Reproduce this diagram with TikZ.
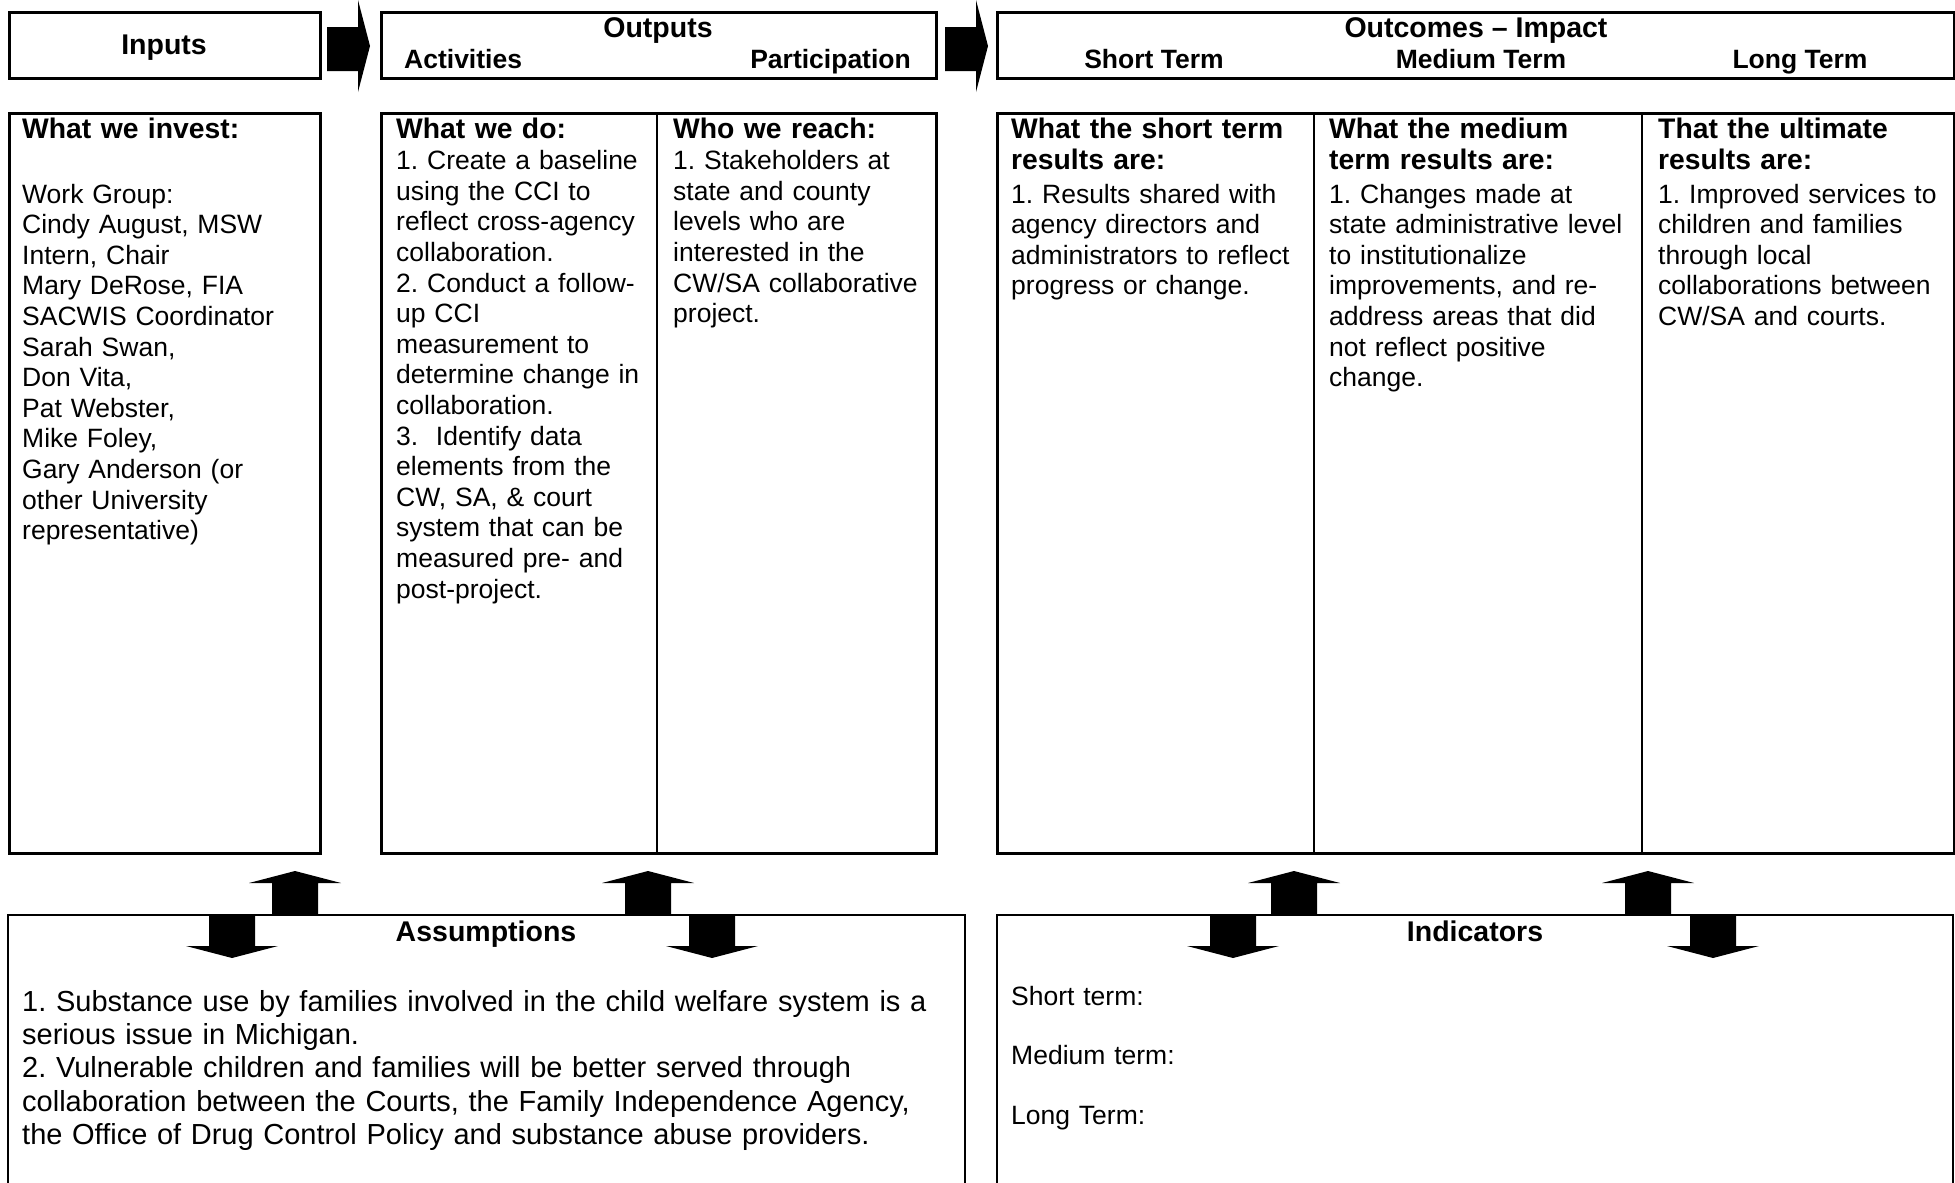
\documentclass[tikz,border=0pt]{standalone}
\usepackage{fontspec}
\setmainfont{Liberation Sans}
\frenchspacing
\begin{document}
\begin{tikzpicture}[x=1pt,y=-1pt,
  frame/.style={draw, line width=2.6pt, inner sep=0pt, anchor=north west},
  rule/.style={line width=2.6pt},
  blockarrow/.style={fill=black},
  hdtitle/.style={inner sep=0pt, font=\fontsize{28.5}{31}\selectfont\bfseries},
  hdsub/.style={inner sep=0pt, font=\fontsize{26.5}{30.6}\selectfont\bfseries},
  colhead/.style={inner sep=0pt, anchor=base west, text width=330pt, align=left, font=\fontsize{28.3}{31}\selectfont\bfseries},
  body/.style={inner sep=0pt, anchor=base west, text width=330pt, align=left, font=\fontsize{26.5}{30.6}\selectfont},
  bigbody/.style={inner sep=0pt, anchor=base west, text width=950pt, align=left, font=\fontsize{29}{33.4}\selectfont},
  indbody/.style={inner sep=0pt, anchor=base west, text width=400pt, align=left, font=\fontsize{26.5}{59.8}\selectfont}
]
\useasboundingbox (0,0) rectangle (1955,1183);

% header boxes
\node[frame, minimum width=311pt, minimum height=66pt] (inh) at (8,11) {};
\node[frame, minimum width=555pt, minimum height=66pt] (outh) at (380,11) {};
\node[frame, minimum width=957pt, minimum height=66pt] (outch) at (996,11) {};

% horizontal block arrows
\fill[blockarrow] (327,27) -- (358,27) -- (358,0) -- (370,46) -- (358,92) -- (358,71) -- (327,71) -- cycle;
\fill[blockarrow] (945,27) -- (976,27) -- (976,0) -- (988,46) -- (976,92) -- (976,71) -- (945,71) -- cycle;

% header texts
\node[hdtitle, anchor=base] (inputsT) at (164,54) {Inputs};
\node[hdtitle, anchor=base] (outputsT) at (658,37) {Outputs};
\node[hdsub, anchor=base west] (actT) at (404,68.5) {Activities};
\node[hdsub, anchor=base east] (partT) at (911,68.5) {Participation};
\node[hdtitle, anchor=base] (outcT) at (1476,37) {Outcomes \textendash{} Impact};
\node[hdsub, anchor=base] (stT) at (1154,68.5) {Short Term};
\node[hdsub, anchor=base] (mtT) at (1481,68.5) {Medium Term};
\node[hdsub, anchor=base] (ltT) at (1800,68.5) {Long Term};

% content boxes
\node[frame, minimum width=311pt, minimum height=740pt] (inb) at (8,112) {};
\node[frame, minimum width=555pt, minimum height=740pt] (outb) at (380,112) {};
\node[frame, minimum width=957pt, minimum height=740pt] (outcb) at (996,112) {};
\draw[rule] (657,112) -- (657,852);
\draw[rule] (1314,112) -- (1314,852);
\draw[rule] (1642,112) -- (1642,852);

% inputs
\node[colhead] (invH) at (22,138) {What we invest:};
\node[body] (invB) at (22,203) {Work Group:\\Cindy August, MSW\\Intern, Chair\\Mary DeRose, FIA\\SACWIS Coordinator\\Sarah Swan,\\Don Vita,\\Pat Webster,\\Mike Foley,\\Gary Anderson (or\\other University\\representative)};

% activities
\node[colhead] (doH) at (396,138) {What we do:};
\node[body] (doB) at (396,169.6) {1. Create a baseline\\using the CCI to\\reflect cross-agency\\collaboration.\\2. Conduct a follow-\\up CCI\\measurement to\\determine change in\\collaboration.\\3.\ \ Identify data\\elements from the\\CW, SA, \& court\\system that can be\\measured pre- and\\post-project.};

% participation
\node[colhead] (reachH) at (673,138) {Who we reach:};
\node[body] (reachB) at (673,169.6) {1. Stakeholders at\\state and county\\levels who are\\interested in the\\CW/SA collaborative\\project.};

% short term
\node[colhead] (shH) at (1011,138) {What the short term\\results are:};
\node[body] (shB) at (1011,203) {1. Results shared with\\agency directors and\\administrators to reflect\\progress or change.};

% medium term
\node[colhead] (mdH) at (1329,138) {What the medium\\term results are:};
\node[body] (mdB) at (1329,203) {1. Changes made at\\state administrative level\\to institutionalize\\improvements, and re-\\address areas that did\\not reflect positive\\change.};

% long term
\node[colhead] (lgH) at (1658,138) {That the ultimate\\results are:};
\node[body] (lgB) at (1658,203) {1. Improved services to\\children and families\\through local\\collaborations between\\CW/SA and courts.};

% bottom boxes (open at the bottom edge)
\draw[rule] (8,1190) -- (8,915) -- (965,915) -- (965,1190);
\draw[rule] (997,1190) -- (997,915) -- (1953,915) -- (1953,1190);

% up arrows
\fill[blockarrow] (272,915) -- (272,883) -- (249,883) -- (295,871) -- (341,883) -- (318,883) -- (318,915) -- cycle;
\fill[blockarrow] (625,915) -- (625,883) -- (602,883) -- (648,871) -- (694,883) -- (671,883) -- (671,915) -- cycle;
\fill[blockarrow] (1271,915) -- (1271,883) -- (1248,883) -- (1294,871) -- (1340,883) -- (1317,883) -- (1317,915) -- cycle;
\fill[blockarrow] (1625,915) -- (1625,883) -- (1602,883) -- (1648,871) -- (1694,883) -- (1671,883) -- (1671,915) -- cycle;

% down arrows
\fill[blockarrow] (209,915) -- (209,946) -- (186,946) -- (232,958) -- (278,946) -- (255,946) -- (255,915) -- cycle;
\fill[blockarrow] (689,915) -- (689,946) -- (666,946) -- (712,958) -- (758,946) -- (735,946) -- (735,915) -- cycle;
\fill[blockarrow] (1210,915) -- (1210,946) -- (1187,946) -- (1233,958) -- (1279,946) -- (1256,946) -- (1256,915) -- cycle;
\fill[blockarrow] (1690,915) -- (1690,946) -- (1667,946) -- (1713,958) -- (1759,946) -- (1736,946) -- (1736,915) -- cycle;

% assumptions
\node[hdtitle, anchor=base] (asmT) at (486,941) {Assumptions};
\node[bigbody] (asmB) at (22,1011) {1. Substance use by families involved in the child welfare system is a\\serious issue in Michigan.\\2. Vulnerable children and families will be better served through\\collaboration between the Courts, the Family Independence Agency,\\the Office of Drug Control Policy and substance abuse providers.};

% indicators
\node[hdtitle, anchor=base] (indT) at (1475,941) {Indicators};
\node[indbody] (indB) at (1011,1005) {Short term:\\Medium term:\\Long Term:};
\end{tikzpicture}
\end{document}
